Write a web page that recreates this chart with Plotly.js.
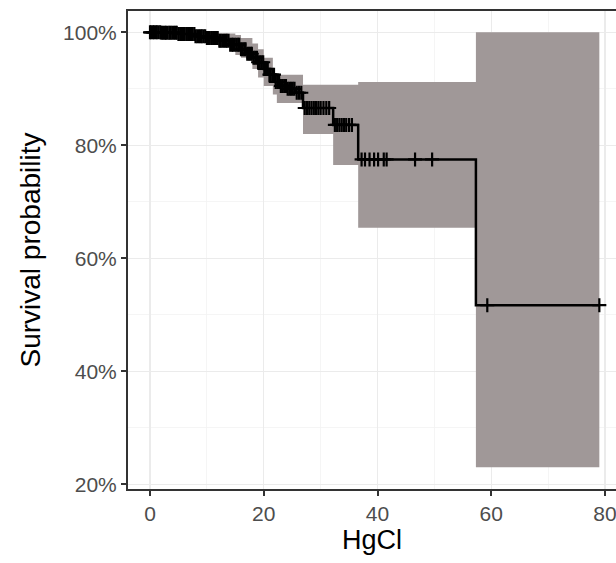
<!DOCTYPE html>
<html>
<head>
<meta charset="utf-8">
<script src="https://cdn.plot.ly/plotly-3.0.1.min.js"></script>
<style>html,body{margin:0;padding:0;background:#fff;}#chart{width:616px;height:563px;}</style>
</head>
<body>
<div id="chart"></div>
<script>
// Kaplan-Meier step curve (time, survival)
const kmTime = [0, 2, 5, 8, 10, 12, 14, 16, 17, 18, 19, 20, 21, 22, 23, 24, 25.5, 26.9, 32.2, 36.6, 57.3, 79];
const kmSurv = [1.0, 0.999, 0.997, 0.993, 0.99, 0.985, 0.978, 0.97, 0.962, 0.955, 0.947, 0.935, 0.925, 0.912, 0.905, 0.9, 0.893, 0.866, 0.836, 0.775, 0.517, 0.517];
// Confidence band
const ciTime  = [0, 10, 12, 15, 16, 18, 19, 20, 21.6, 22.3, 26.9, 32.2, 36.6, 57.3, 79];
const ciUpper = [1.0, 1.0, 0.998, 0.995, 0.99, 0.98, 0.97, 0.955, 0.925, 0.925, 0.907, 0.907, 0.912, 1.0, 1.0];
const ciLower = [1.0, 0.98, 0.975, 0.96, 0.955, 0.935, 0.92, 0.905, 0.89, 0.875, 0.82, 0.765, 0.654, 0.23, 0.23];
// Censoring times
const censorTime = [0, 0.2, 0.5, 0.7, 1.0, 1.2, 1.5, 1.8, 2.0, 2.3, 2.6, 2.8, 3.1, 3.4, 3.6, 3.9, 4.2, 4.5, 4.7, 5.0,
  5.3, 5.6, 5.8, 6.1, 6.4, 6.7, 6.9, 7.2, 7.5, 7.8, 8.0, 8.3, 8.6, 8.9, 9.1, 9.4, 9.7, 10.0, 10.2, 10.5,
  10.8, 11.1, 11.3, 11.6, 11.9, 12.2, 12.4, 12.7, 13.0, 13.3, 13.5, 13.8, 14.1, 14.4, 14.6, 14.9, 15.2, 15.5, 15.7, 16.0,
  16.3, 16.6, 16.8, 17.1, 17.4, 17.7, 17.9, 18.2, 18.5, 18.8, 19.0, 19.3, 19.6, 19.9, 20.1, 20.4, 20.7, 21.0, 21.2, 21.5,
  21.8, 22.1, 22.4, 22.7, 23.0, 23.3, 23.6, 23.9, 24.2, 24.5, 24.8, 25.1, 25.4, 25.8, 26.2, 26.6,
  27.2, 27.6, 28.0, 28.4, 28.8, 29.2, 29.6, 30.0, 30.5, 31.0, 31.5,
  32.5, 32.9, 33.3, 33.7, 34.1, 34.5, 35.0, 35.5,
  37.2, 37.8, 38.6, 39.4, 40.1, 41.1, 41.6, 46.6, 49.6, 59.3, 79];
const xTicks = [0, 20, 40, 60, 80];
const yTicks = [0.2, 0.4, 0.6, 0.8, 1.0];
const yTickText = ['20%', '40%', '60%', '80%', '100%'];

function survAt(t) {
  let s = kmSurv[0];
  for (let i = 0; i < kmTime.length; i++) { if (kmTime[i] <= t) s = kmSurv[i]; }
  return s;
}
const censorSurv = censorTime.map(survAt);

const bandColor = 'rgb(160,152,152)';
const traces = [
  {x: ciTime, y: ciLower, mode: 'lines', line: {shape: 'hv', width: 0, color: bandColor}, hoverinfo: 'skip', showlegend: false},
  {x: ciTime, y: ciUpper, mode: 'lines', line: {shape: 'hv', width: 0, color: bandColor}, fill: 'tonexty', fillcolor: bandColor, hoverinfo: 'skip', showlegend: false},
  {x: kmTime, y: kmSurv, mode: 'lines', line: {shape: 'hv', width: 2.5, color: '#000'}, showlegend: false},
  {x: censorTime, y: censorSurv, mode: 'markers', marker: {symbol: 'cross-thin-open', size: 10, line: {width: 2.2, color: '#000'}, color: '#000'}, showlegend: false}
];

const gridC = '#ebebeb';
const layout = {
  width: 616, height: 563,
  margin: {l: 128, r: 0, t: 11, b: 74},
  paper_bgcolor: '#fff', plot_bgcolor: '#fff',
  font: {family: 'Liberation Sans, Arial, sans-serif', color: '#4d4d4d'},
  xaxis: {
    range: [-3.87, 81.93], tickvals: xTicks, ticktext: xTicks.map(String),
    ticklabeloverflow: 'allow',
    showgrid: true, gridcolor: gridC, gridwidth: 1.2,
    minor: {dtick: 10, tick0: 0, showgrid: true, gridcolor: '#f2f2f2', gridwidth: 0.8, ticks: ''},
    zeroline: false, showline: true, linecolor: '#333', linewidth: 2, mirror: true,
    ticks: 'outside', ticklen: 5, tickwidth: 2, tickcolor: '#333',
    tickfont: {size: 21, color: '#4d4d4d'},
    title: {text: 'HgCl', font: {size: 27, color: '#000'}, standoff: 4}
  },
  yaxis: {
    range: [0.1915, 1.0377], tickvals: yTicks, ticktext: yTickText,
    showgrid: true, gridcolor: gridC, gridwidth: 1.2,
    minor: {dtick: 0.1, tick0: 0, showgrid: true, gridcolor: '#f2f2f2', gridwidth: 0.8, ticks: ''},
    zeroline: false, showline: true, linecolor: '#333', linewidth: 2,
    ticks: 'outside', ticklen: 5, tickwidth: 2, tickcolor: '#333',
    tickfont: {size: 21, color: '#4d4d4d'},
    title: {text: 'Survival probability', font: {size: 28, color: '#000'}, standoff: 14}
  }
};
Plotly.newPlot('chart', traces, layout, {displayModeBar: false, staticPlot: true});
</script>
</body>
</html>
